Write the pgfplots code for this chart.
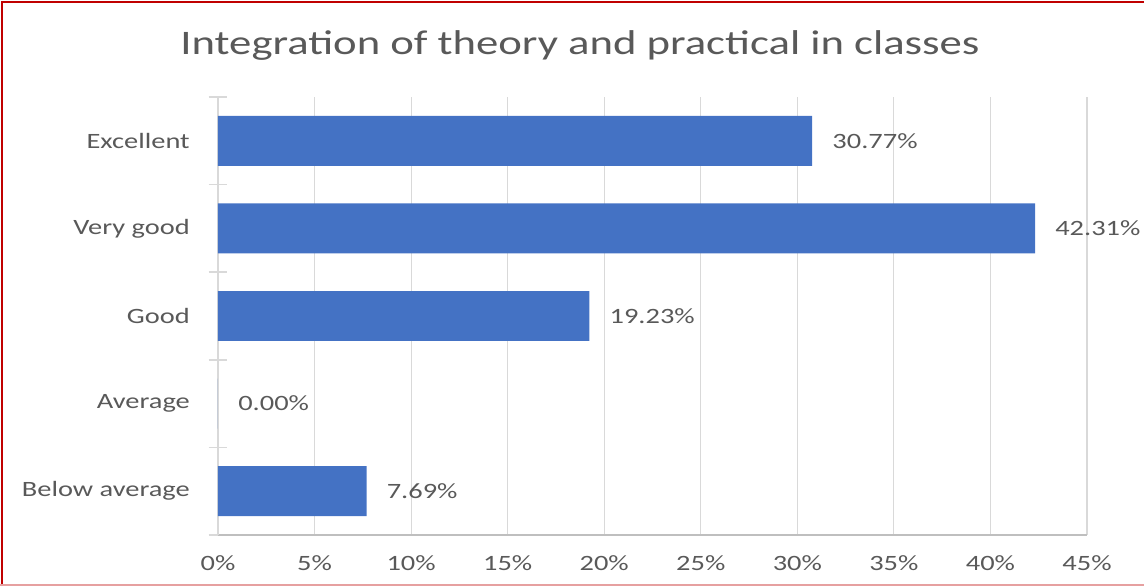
\documentclass[border=0pt]{standalone}
\usepackage{pgfplots}
\pgfplotsset{compat=1.18}
\usepackage{fontspec}
\setmainfont{Carlito}[FakeStretch=1.3]
\definecolor{barblue}{HTML}{4472C4}
\definecolor{txt}{HTML}{595959}
\definecolor{gridc}{HTML}{D9D9D9}
\definecolor{axisgray}{HTML}{BFBFBF}
\definecolor{bordr}{HTML}{C00000}
\definecolor{pinkb}{HTML}{E6A0A0}
\begin{document}
\begin{tikzpicture}[x=1pt,y=1pt]
\useasboundingbox (-163.5,-38.25) rectangle (694.5,401.25);
\draw[bordr, line width=1.6pt] (-162.3,-38.25) -- (-162.3,400.05) -- (694.5,400.05);
\draw[pinkb, line width=0.8pt] (-163.5,-37.5) -- (694.5,-37.5);
\node[anchor=base, text=txt, font=\fontsize{25.8}{30}\selectfont] at (271.5,360) {Integration of theory and practical in classes};
\begin{axis}[
  at={(0,0)}, anchor=south west, scale only axis,
  width=651.75pt, height=328.5pt,
  xbar, bar width=0.57,
  xmin=0, xmax=45, ymin=-0.5, ymax=4.5,
  xtick={0,5,...,45},
  xticklabels={0\%,5\%,10\%,15\%,20\%,25\%,30\%,35\%,40\%,45\%},
  ytick={0,1,2,3,4},
  yticklabels={Below average,Average,Good,Very good,Excellent},
  minor ytick={-0.5,0.5,1.5,2.5,3.5,4.5},
  major tick length=0pt,
  minor tick length=14pt,
  tick align=center,
  minor y tick style={gridc, line width=1.2pt},
  xmajorgrids,
  major grid style={gridc, line width=0.9pt},
  axis x line*=bottom,
  axis y line*=left,
  x axis line style={axisgray, line width=1pt},
  y axis line style={gridc, line width=1.4pt},
  xticklabel style={anchor=north, inner sep=0pt, yshift=-15.5pt, text=txt, font=\fontsize{16.4}{19}\selectfont},
  yticklabel style={anchor=east, inner sep=0pt, xshift=-21pt, text=txt, font=\fontsize{16.4}{19}\selectfont},
  /pgf/number format/assume math mode=true,
  nodes near coords={\pgfmathprintnumber[fixed,fixed zerofill,precision=2]{\pgfplotspointmeta}\%},
  every node near coord/.append style={anchor=west, inner sep=0pt, xshift=15pt, text=txt, font=\fontsize{16.4}{19}\selectfont},
  clip=false,
]
\addplot[fill=barblue, draw=none] coordinates {(7.69,0) (0,1) (19.23,2) (42.31,3) (30.77,4)};
\end{axis}
\end{tikzpicture}
\end{document}
